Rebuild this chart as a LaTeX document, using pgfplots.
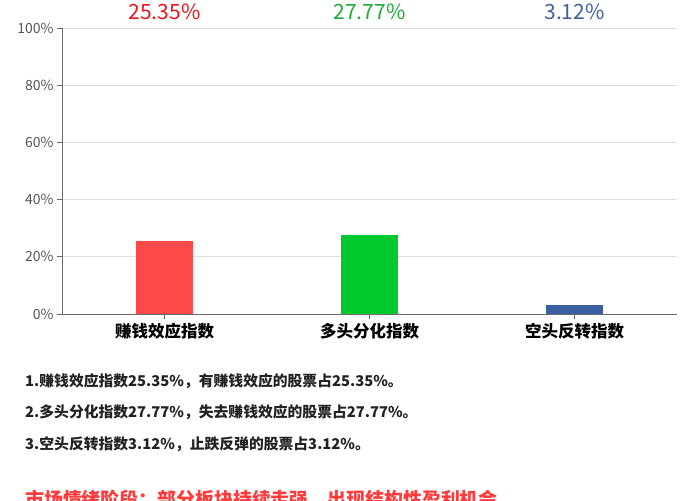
\documentclass[border=0pt]{standalone}
\usepackage{fontspec}
\setmainfont{Noto Sans CJK SC}
\usepackage{pgfplots}
\pgfplotsset{compat=1.18}

\definecolor{barred}{HTML}{FF4848}
\definecolor{bargreen}{HTML}{00C82D}
\definecolor{barblue}{HTML}{3A5FA0}
\definecolor{labred}{HTML}{E8151C}
\definecolor{labgreen}{HTML}{1FAA38}
\definecolor{labblue}{HTML}{3F6099}
\definecolor{gridgray}{HTML}{DEDEDE}
\definecolor{axisgray}{HTML}{6A6A6A}
\definecolor{ticktext}{HTML}{555555}
\definecolor{bodytext}{HTML}{222222}
\definecolor{headred}{HTML}{FF3B3B}

\begin{document}
\begin{tikzpicture}[x=1pt,y=1pt]
\useasboundingbox (0,0) rectangle (700,500);
\begin{axis}[
    at={(62pt,186pt)}, anchor=south west,
    scale only axis,
    width=615pt, height=286pt,
    xmin=-0.5, xmax=2.5,
    ymin=0, ymax=100,
    axis x line*=bottom,
    axis y line*=left,
    axis line style={axisgray, line width=0.8pt},
    xtick={0,1,2},
    xticklabels={赚钱效应指数,多头分化指数,空头反转指数},
    x tick label style={font=\fontsize{16.5}{18}\selectfont\bfseries, text=black, yshift=-1pt},
    ytick={0,20,40,60,80,100},
    yticklabel={\pgfmathprintnumber{\tick}\%},
    y tick label style={font=\fontsize{14}{16}\selectfont, text=ticktext},
    /pgf/number format/assume math mode=true,
    tick align=outside,
    major tick length=5pt,
    tick style={axisgray, line width=0.7pt},
    ymajorgrids,
    grid style={gridgray, line width=0.7pt},
    ybar, bar width=57pt, bar shift=0pt,
    clip=false,
]
\addplot[fill=barred, draw=none] coordinates {(0,25.35)};
\addplot[fill=bargreen, draw=none] coordinates {(1,27.77)};
\addplot[fill=barblue, draw=none] coordinates {(2,3.12)};
\node[text=labred, font=\fontsize{21}{23}\selectfont] at ([yshift=16pt]axis cs:0,100) {25.35\%};
\node[text=labgreen, font=\fontsize{21}{23}\selectfont] at ([yshift=16pt]axis cs:1,100) {27.77\%};
\node[text=labblue, font=\fontsize{21}{23}\selectfont] at ([yshift=16pt]axis cs:2,100) {3.12\%};
\end{axis}
\begin{scope}[every node/.style={anchor=base west, inner sep=0pt, text=bodytext, font=\fontsize{14.8}{16}\selectfont\bfseries}]
\node at (25,113) {1.赚钱效应指数25.35\%，有赚钱效应的股票占25.35\%。};
\node at (25,82) {2.多头分化指数27.77\%，失去赚钱效应的股票占27.77\%。};
\node at (25,51) {3.空头反转指数3.12\%，止跌反弹的股票占3.12\%。};
\end{scope}
\node[anchor=base west, inner sep=0pt, text=headred, font=\fontsize{18.9}{21}\selectfont\bfseries] at (25,-6) {市场情绪阶段：部分板块持续走强，出现结构性盈利机会};
\end{tikzpicture}
\end{document}
